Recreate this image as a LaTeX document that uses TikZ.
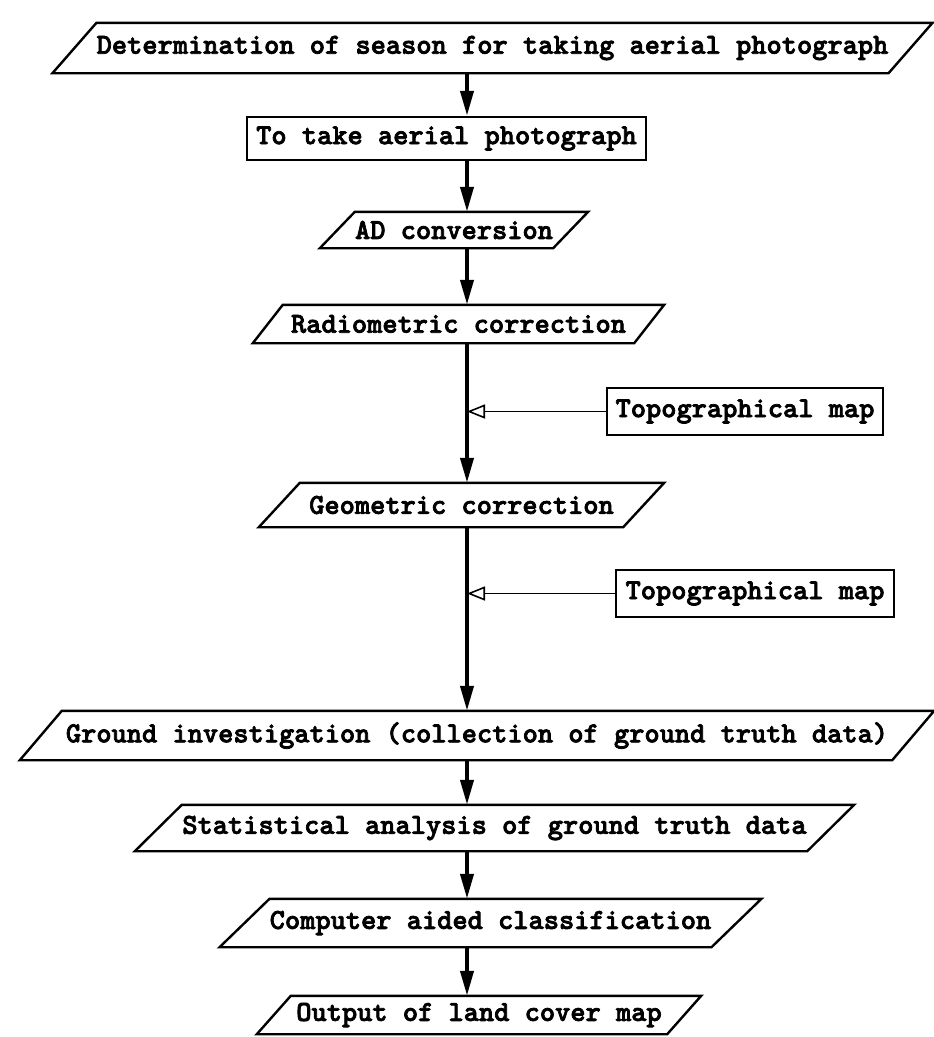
\documentclass[tikz,border=0pt]{standalone}
\usepackage{fontspec}
\usepackage{tikz}
\usetikzlibrary{arrows.meta, calc}
\newfontfamily\mapfont{lmmonolt10-bold.otf}[FakeBold=2.5]
\tikzset{
	io/.style={shape=rectangle, inner sep=0pt, font={\fontsize{29}{34}\selectfont\mapfont}},
	proc/.style={draw=black, line width=2.4pt, shape=rectangle, inner sep=0pt, font={\fontsize{29}{34}\selectfont\mapfont}},
	slanted/.style={draw=black, line width=2.4pt},
	flow/.style={line width=4pt, -{Triangle[length=25pt, width=13pt]}},
	feed/.style={line width=1.6pt, -{Triangle[open, length=18pt, width=14pt]}}
}

\begin{document}
\begin{tikzpicture}[x=1pt, y=-1pt]
	\useasboundingbox (0,0) rectangle (934,1037);
	\coordinate (spine) at (467,0);

	% main chain
	\node (det) [io, minimum width=789pt, minimum height=50pt] at (492.5,48) {Determination of season for taking aerial photograph};
	\node (take) [proc, minimum width=399pt, minimum height=43pt] at (446.5,138.5) {To take aerial photograph};
	\node (ad) [io, minimum width=196pt, minimum height=36pt] at (454,230) {AD conversion};
	\node (rad) [io, minimum width=351pt, minimum height=38pt] at (458.5,324) {Radiometric correction};
	\node (geo) [io, minimum width=323pt, minimum height=44pt] at (461.5,505) {Geometric correction};
	\node (ground) [io, minimum width=830pt, minimum height=49pt] at (477,735.5) {Ground investigation (collection of ground truth data)};
	\node (stat) [io, minimum width=625pt, minimum height=46pt] at (494.5,828) {Statistical analysis of ground truth data};
	\node (comp) [io, minimum width=441pt, minimum height=48pt] at (490.5,923) {Computer aided classification};
	\node (out) [io, minimum width=376pt, minimum height=38pt] at (479,1015) {Output of land cover map};

	% Topographical maps
	\node (topoa) [proc, minimum width=276pt, minimum height=47pt] at (745,411.5) {Topographical map};
	\node (topob) [proc, minimum width=278pt, minimum height=47pt] at (755,593.5) {Topographical map};

	% parallelogram outlines
	\foreach \n/\s in {det/44, ad/35, rad/30, geo/41, ground/42, stat/47, comp/50, out/34}
		\draw[slanted] ($(\n.south west)+(-\s,0)$) -- (\n.north west) -- ($(\n.north east)+(\s,0)$) -- (\n.south east) -- cycle;

	\coordinate (ja) at (topoa.west -| spine);
	\coordinate (jb) at (topob.west -| spine);

	\draw[flow] (det.south -| spine) -- (take.north -| spine);
	\draw[flow] (take.south -| spine) -- (ad.north -| spine);
	\draw[flow] (ad.south -| spine) -- (rad.north -| spine);
	\draw[flow] (rad.south -| spine) -- (geo.north -| spine);
	\draw[flow] (geo.south -| spine) -- (ground.north -| spine);
	\draw[flow] (ground.south -| spine) -- (stat.north -| spine);
	\draw[flow] (stat.south -| spine) -- (comp.north -| spine);
	\draw[flow] (comp.south -| spine) -- (out.north -| spine);

	\draw[feed] (topoa) -- (ja);
	\draw[feed] (topob) -- (jb);
\end{tikzpicture}
\end{document}
